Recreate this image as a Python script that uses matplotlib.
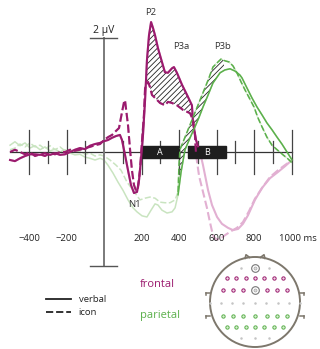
import numpy as np
import matplotlib
matplotlib.use("Agg")
import matplotlib.pyplot as plt
from matplotlib.patches import Circle, Rectangle

plt.rcParams['font.family'] = ['Open Sans', 'DejaVu Sans']
plt.rcParams['hatch.linewidth'] = 0.6

# ERP curves (time in ms, amplitude in µV)
t_front_verbal = [-501, -475, -448, -421, -395, -368, -341, -315, -288, -261, -235, -208, -181, -155,
                  -128, -101, -75, -48, -21, 0, 21, 43, 64, 85, 96, 112, 128, 144, 160, 176, 187, 197,
                  208, 219, 229, 240, 251, 261, 272, 288, 309, 325, 341, 363, 373, 389, 416, 443, 469,
                  475, 491, 501, 512, 528, 555, 576, 603, 629, 661, 688, 715, 741, 768, 805,
                  843, 885, 928, 965, 1003]
v_front_verbal = [-0.14, -0.16, -0.11, -0.07, -0.04, -0.04, -0.05, -0.02, -0.05, -0.02, -0.05, -0.04,
                  0.00, 0.04, 0.07, 0.05, 0.11, 0.14, 0.16, 0.19, 0.21, 0.25, 0.28, 0.30, 0.21, -0.05,
                  -0.32, -0.58, -0.72, -0.70, -0.49, -0.14, 0.30, 0.91, 1.61, 2.05, 2.28, 2.18, 2.05,
                  1.82, 1.58, 1.40, 1.39, 1.47, 1.49, 1.39, 1.18, 1.00, 0.82,
                  0.51, 0.21, 0.10, 0.00, -0.23, -0.67, -0.93, -1.14, -1.26, -1.33, -1.37, -1.35, -1.26,
                  -1.11, -0.84, -0.63, -0.46, -0.35, -0.25, -0.14]

t_front_icon = [-501, -475, -448, -421, -395, -368, -341, -315, -288, -261, -235, -208, -181, -155,
                -128, -101, -75, -48, -21, 0, 21, 43, 64, 80, 96, 107, 112, 117, 128, 139, 149, 160,
                171, 181, 192, 203, 213, 219, 235, 245, 256, 272, 299, 325, 341, 363, 389, 421,
                459, 475, 485, 491, 507, 528, 549, 565, 581, 597, 619, 645, 677, 709, 741, 773,
                805, 843, 885, 928, 965, 1003]
v_front_icon = [0.00, 0.04, 0.00, -0.04, 0.00, -0.07, -0.04, -0.07, -0.02, -0.04, 0.00, 0.00, 0.04,
                0.02, 0.04, 0.07, 0.09, 0.12, 0.14, 0.21, 0.26, 0.30, 0.37, 0.42, 0.70, 0.88, 0.91,
                0.77, 0.47, 0.04, -0.32, -0.58, -0.68, -0.63, -0.32, 0.21, 0.65, 1.12, 1.23, 1.14,
                1.00, 0.95, 0.86, 0.82, 0.88, 0.86, 0.82, 0.74, 0.68, 0.56, 0.30, -0.05,
                -0.42, -0.70, -0.98, -1.23, -1.46, -1.53, -1.53, -1.46, -1.39, -1.33, -1.23, -1.04,
                -0.82, -0.63, -0.44, -0.32, -0.23, -0.14]

t_par_verbal = [-501, -475, -448, -421, -395, -368, -341, -315, -288, -261, -235, -208, -181, -155,
                -128, -101, -75, -48, -21, 0, 21, 48, 75, 101, 128, 155, 176, 203, 229, 251, 272,
                288, 309, 336, 363, 379, 395, 411, 432, 459, 485, 507, 528, 555, 581, 619, 645, 672,
                699, 725, 736, 763, 789, 816, 843, 869, 896, 923, 949, 976, 1003]
v_par_verbal = [0.12, 0.18, 0.11, 0.16, 0.07, 0.11, 0.04, 0.09, 0.02, 0.05, 0.00, 0.04, -0.02, -0.05,
                -0.04, -0.09, -0.11, -0.14, -0.11, -0.14, -0.23, -0.37, -0.53, -0.67, -0.84, -0.98,
                -1.05, -1.12, -1.14, -1.02, -0.91, -0.93, -1.02, -1.07, -1.05, -0.98, -0.75, -0.35,
                0.04, 0.25, 0.44, 0.61, 0.79, 1.00, 1.21, 1.39, 1.44, 1.46, 1.42, 1.35,
                1.30, 1.12, 0.95, 0.79, 0.65, 0.51, 0.39, 0.26, 0.14, 0.00, -0.14]

t_par_icon = [-501, -475, -448, -421, -395, -368, -341, -315, -288, -261, -235, -208, -181, -155,
              -128, -101, -75, -48, -21, 0, 32, 64, 91, 123, 155, 192, 219, 245, 272, 299, 325, 352,
              379, 395, 400, 405, 437, 475, 501, 528, 555, 581, 608, 624, 645, 667, 688, 709,
              731, 752, 773, 800, 821, 843, 869, 896, 923, 955, 981, 1003]
v_par_icon = [0.04, 0.07, 0.14, 0.09, 0.16, 0.09, 0.12, 0.05, 0.11, 0.04, 0.09, 0.02, 0.04, 0.00,
              0.02, -0.04, -0.02, -0.07, -0.05, -0.07, -0.14, -0.23, -0.32, -0.53, -0.67, -0.84,
              -0.81, -0.79, -0.81, -0.88, -0.89, -0.89, -0.84, -0.70, -0.23, 0.04, 0.30, 0.61,
              0.82, 1.04, 1.26, 1.49, 1.58, 1.63, 1.60, 1.58, 1.51, 1.39, 1.23, 1.09, 0.96,
              0.79, 0.60, 0.44, 0.26, 0.12, 0.04, -0.05, -0.12, -0.19]

tick_labels = [-400, -200, 200, 400, 600, 800, 1000]
windows = {'A': (200, 400), 'B': (450, 650)}
components = {'P2': (250, 2.45), 'P3a': (410, 1.85), 'P3b': (630, 1.85), 'N1': (160, -0.92)}

# electrode layout on unit head (x, y per row)
elec_rows_y = [0.76, 0.53, 0.27, -0.03, -0.31, -0.56, -0.81]
elec_rows_x = [[-0.31, 0, 0.31],
               [-0.63, -0.42, -0.21, 0, 0.21, 0.42, 0.63],
               [-0.72, -0.48, -0.26, 0, 0.26, 0.48, 0.72],
               [-1.0, -0.76, -0.5, -0.26, 0, 0.25, 0.5, 0.76, 1.0],
               [-0.72, -0.48, -0.26, 0, 0.26, 0.48, 0.72],
               [-0.63, -0.42, -0.21, 0, 0.21, 0.42, 0.63],
               [-0.31, 0, 0.31]]
elec_groups = ['none', 'frontal', 'frontal', 'none', 'parietal', 'parietal', 'none']
ref_elecs = [(0, 0.76), (0, 0.27)]

MAG = '#9b1b6e'
MAG_L = '#e2b0d2'
GRN = '#5bb04b'
GRN_L = '#c9e4c0'
DASH = (4, 1.6)

fig = plt.figure(figsize=(3.2, 3.49), dpi=100)
ax = fig.add_axes([0, 0, 1, 1])
ax.set_xlim(-554.7, 1152)
ax.set_ylim(-3.456, 2.667)
ax.axis('off')


def draw(t, v, color_dark, color_light, dark_range, dashed, lw):
    t = np.asarray(t, float)
    v = np.asarray(v, float)
    kw = dict(dashes=DASH) if dashed else {}
    ax.plot(t, v, color=color_light, lw=lw, zorder=1, **kw)
    lo, hi = dark_range
    m = (t >= lo) & (t <= hi)
    ax.plot(t[m], v[m], color=color_dark, lw=lw, zorder=4, **kw)


draw(t_front_verbal, v_front_verbal, MAG, MAG_L, (-600, 501), False, 1.5)
draw(t_front_icon, v_front_icon, MAG, MAG_L, (-600, 491), True, 1.5)
draw(t_par_verbal, v_par_verbal, GRN, GRN_L, (395, 1100), False, 1.1)
draw(t_par_icon, v_par_icon, GRN, GRN_L, (395, 1100), True, 1.1)

# hatched differences
g = np.linspace(205, 485, 200)
ax.fill_between(g, np.interp(g, t_front_verbal, v_front_verbal), np.interp(g, t_front_icon, v_front_icon),
                facecolor='none', edgecolor='#222222', lw=0, hatch='//////', zorder=3)
g = np.linspace(405, 640, 200)
ax.fill_between(g, np.interp(g, t_par_icon, v_par_icon), np.interp(g, t_par_verbal, v_par_verbal),
                facecolor='none', edgecolor='#222222', lw=0, hatch='//////', zorder=3)

# axes
ax.plot([-503, 1000], [0, 0], color='#333333', lw=0.9, zorder=2)
ax.plot([0, 0], [-2, 2], color='#7a7a7a', lw=1.4, zorder=2)
for yy in (-2, 2):
    ax.plot([-75, 70], [yy, yy], color='#555555', lw=1.0, zorder=2)
for tk in range(-400, 1001, 100):
    if tk == 0:
        continue
    h = 0.39 if tk % 200 == 0 else 0.2
    ax.plot([tk, tk], [-h, h], color='#444444', lw=0.9, zorder=2)
for name, (a, b) in windows.items():
    ax.add_patch(Rectangle((a, -0.105), b - a, 0.21, color='#1e1e1e', zorder=2.5))
    ax.text((a + b) / 2, 0, name, color='white', fontsize=6.5, ha='center', va='center', zorder=3)

for tk in tick_labels:
    if tk == 1000:
        ax.text(933, -1.51, '1000 ms', fontsize=6.8, ha='left', va='center', color='#222222')
    else:
        ax.text(tk, -1.51, str(tk).replace('-', '\u2212'), fontsize=6.8, ha='center', va='center',
                color='#222222')
ax.text(0, 2.03, '2 µV', fontsize=7.5, ha='center', va='bottom', color='#222222')
for name, (x, y) in components.items():
    ax.text(x, y, name, fontsize=6.8, ha='center', va='center', color='#333333')

# legend
ax.plot([-310, -177], [-2.58, -2.58], color='#222222', lw=1.3)
ax.plot([-310, -177], [-2.81, -2.81], color='#222222', lw=1.3, dashes=(4, 1.6))
ax.text(-135, -2.58, 'verbal', fontsize=6.8, ha='left', va='center', color='#222222')
ax.text(-135, -2.81, 'icon', fontsize=6.8, ha='left', va='center', color='#222222')
ax.text(192, -2.33, 'frontal', fontsize=8, ha='left', va='center', color=MAG)
ax.text(192, -2.86, 'parietal', fontsize=8, ha='left', va='center', color=GRN)

# head
hx = fig.add_axes([205 / 320, -3 / 349, 100 / 320, 100 / 349])
hx.set_xlim(-1.111, 1.111)
hx.set_ylim(-1.111, 1.111)
hx.set_aspect('equal')
hx.axis('off')
HEAD = '#7d776c'
hx.add_patch(Circle((0, 0), 1, fill=False, ec=HEAD, lw=1.4))
hx.plot([-0.22, -0.2, -0.12], [0.97, 1.05, 0.99], color=HEAD, lw=1.2)
hx.plot([0.22, 0.2, 0.12], [0.97, 1.05, 0.99], color=HEAD, lw=1.2)
for sx in (-1, 1):
    for ey in (0.2, -0.31):
        hx.plot([sx * 0.99, sx * 1.08], [ey, ey], color=HEAD, lw=1.1)
        hx.plot([sx * 1.08, sx * 1.08], [ey, ey - 0.05], color=HEAD, lw=1.1)
for ys, xs, grp in zip(elec_rows_y, elec_rows_x, elec_groups):
    for xe in xs:
        if (xe, ys) in ref_elecs:
            continue
        if grp == 'frontal':
            hx.plot(xe, ys, 'o', ms=2.4, mfc='#f0d8e6', mec=MAG, mew=0.7)
        elif grp == 'parietal':
            hx.plot(xe, ys, 'o', ms=2.4, mfc='#d9efd3', mec=GRN, mew=0.7)
        else:
            hx.plot(xe, ys, 'o', ms=1.8, color='#c4c4c4', mew=0)
for xe, ye in ref_elecs:
    hx.plot(xe, ye, 'o', ms=5.5, mfc='white', mec='#777777', mew=0.8)
    hx.plot(xe, ye, 'o', ms=2.2, mfc='#dddddd', mec='#999999', mew=0.4)

fig.savefig('out.png', dpi=100)
